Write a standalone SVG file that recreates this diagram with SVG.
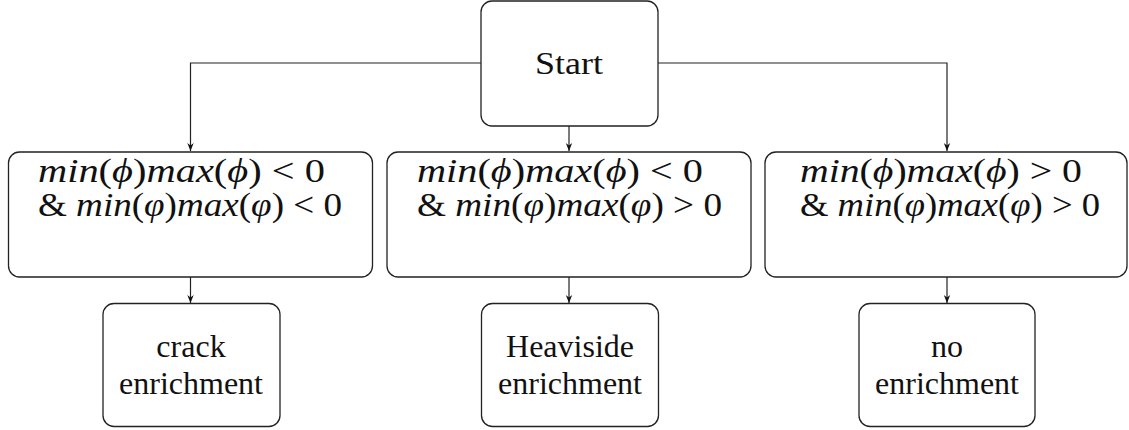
<svg xmlns="http://www.w3.org/2000/svg" width="1129" height="430" viewBox="0 0 1129 430">
<style>
.box{fill:#fff;stroke:#222;stroke-width:1.3}
.t{font-family:"Liberation Serif","Times New Roman",serif;font-size:32px;fill:#111}
.m{font-size:33px}
.i{font-style:italic}
.c{stroke:#222;stroke-width:1.2;fill:none}
</style>
<defs>
<marker id="ah" viewBox="0 0 10 10" refX="10" refY="5" markerWidth="8" markerHeight="8" markerUnits="userSpaceOnUse" orient="auto">
<path d="M0,1 L10,5 L0,9 L3,5 Z" fill="#111"/>
</marker>
</defs>
<g id="connectors">
<path class="c" d="M481,63 H190.5 V151" marker-end="url(#ah)"/>
<path class="c" d="M658,63 H947 V151" marker-end="url(#ah)"/>
<path class="c" d="M569,126 V151" marker-end="url(#ah)"/>
<path class="c" d="M190.5,277 V303" marker-end="url(#ah)"/>
<path class="c" d="M569,277 V303" marker-end="url(#ah)"/>
<path class="c" d="M947,277 V303" marker-end="url(#ah)"/>
</g>
<g id="start">
<rect class="box" x="481" y="1" width="177" height="125" rx="11"/>
<text class="t" x="535" y="74" textLength="68" lengthAdjust="spacingAndGlyphs">Start</text>
</g>
<g id="cond1">
<rect class="box" x="8.5" y="152" width="364" height="125" rx="11"/>
<text class="t m" x="38" y="182" textLength="287" lengthAdjust="spacingAndGlyphs"><tspan class="i">min</tspan>(<tspan class="i">ϕ</tspan>)<tspan class="i">max</tspan>(<tspan class="i">ϕ</tspan>)  &lt;  0</text>
<text class="t m" x="38" y="216" textLength="304" lengthAdjust="spacingAndGlyphs">&amp; <tspan class="i">min</tspan>(<tspan class="i">φ</tspan>)<tspan class="i">max</tspan>(<tspan class="i">φ</tspan>) &lt; 0</text>
</g>
<g id="cond2">
<rect class="box" x="387" y="152" width="364" height="125" rx="11"/>
<text class="t m" x="417" y="182" textLength="286" lengthAdjust="spacingAndGlyphs"><tspan class="i">min</tspan>(<tspan class="i">ϕ</tspan>)<tspan class="i">max</tspan>(<tspan class="i">ϕ</tspan>)  &lt;  0</text>
<text class="t m" x="417" y="216" textLength="305" lengthAdjust="spacingAndGlyphs">&amp; <tspan class="i">min</tspan>(<tspan class="i">φ</tspan>)<tspan class="i">max</tspan>(<tspan class="i">φ</tspan>) &gt; 0</text>
</g>
<g id="cond3">
<rect class="box" x="765" y="152" width="362" height="125" rx="11"/>
<text class="t m" x="800" y="182" textLength="282" lengthAdjust="spacingAndGlyphs"><tspan class="i">min</tspan>(<tspan class="i">ϕ</tspan>)<tspan class="i">max</tspan>(<tspan class="i">ϕ</tspan>)  &gt;  0</text>
<text class="t m" x="800" y="216" textLength="300" lengthAdjust="spacingAndGlyphs">&amp; <tspan class="i">min</tspan>(<tspan class="i">φ</tspan>)<tspan class="i">max</tspan>(<tspan class="i">φ</tspan>) &gt; 0</text>
</g>
<g id="crack">
<rect class="box" x="103" y="303.5" width="177" height="123" rx="11"/>
<text class="t" x="191" y="357" text-anchor="middle">crack</text>
<text class="t" x="191" y="394" text-anchor="middle">enrichment</text>
</g>
<g id="heaviside">
<rect class="box" x="481.5" y="303.5" width="177" height="123" rx="11"/>
<text class="t" x="570" y="357" text-anchor="middle">Heaviside</text>
<text class="t" x="570" y="394" text-anchor="middle">enrichment</text>
</g>
<g id="none">
<rect class="box" x="859" y="303.5" width="176" height="123" rx="11"/>
<text class="t" x="947" y="357" text-anchor="middle">no</text>
<text class="t" x="947" y="394" text-anchor="middle">enrichment</text>
</g>
</svg>
